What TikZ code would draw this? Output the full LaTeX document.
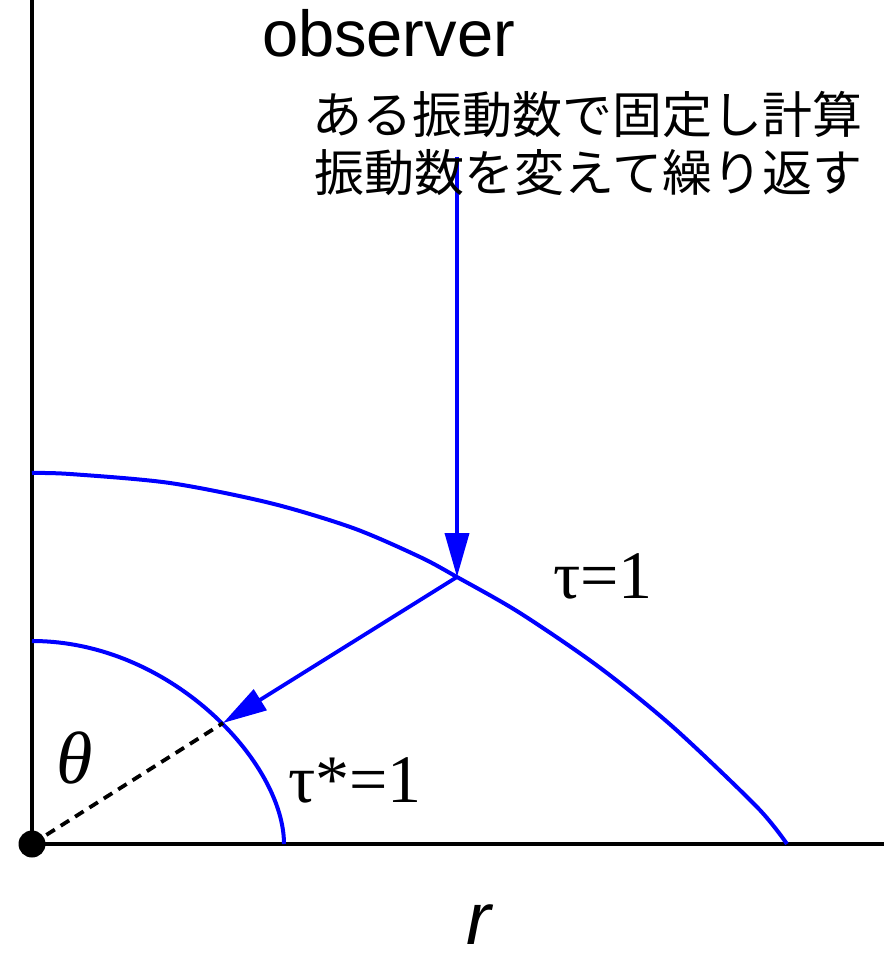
\documentclass[tikz,border=0pt]{standalone}
\usepackage{fontspec}
\setmainfont{Liberation Serif}
\newfontfamily\sansfam{Liberation Sans}
\newfontfamily\cjkfam{Noto Sans CJK JP}
\usetikzlibrary{arrows.meta}
\definecolor{curveblue}{RGB}{0,0,255}
\tikzset{
  axis/.style={line width=4pt, black},
  surface/.style={line width=4pt, curveblue, line join=round},
  ray/.style={line width=3.8pt, curveblue, -{Triangle[length=44pt,width=24pt]}},
  radial/.style={line width=3.8pt, black, dash pattern=on 10pt off 7pt},
  lbl/.style={inner sep=0pt, outer sep=0pt},
}
\begin{document}
\begin{tikzpicture}[x=1pt,y=-1pt]
\useasboundingbox (0,0) rectangle (891,957);
% key points
\coordinate (O) at (32,844);
\coordinate (Ytop) at (32,0);
\coordinate (Xend) at (884,844);
\coordinate (T) at (457,157);
\coordinate (P) at (457,577);
\coordinate (Q) at (223,723);
\coordinate (A1) at (32,641);
\coordinate (A2) at (284,844);
% axes
\draw[axis] (Ytop) -- (O) -- (Xend);
% optical depth surfaces
\draw[surface] plot[smooth, tension=0.5] coordinates {(32,473) (70,474) (170,483) (270,503) (353,528) (420,557) (457,577) (520,613) (599,667) (673,727) (757,807) (787,844)};
\draw[surface] (A1) .. controls (171,641) and (284,763) .. (A2);
% radial dashed line
\draw[radial] (O) -- (Q);
% rays
\draw[ray] (T) -- (P);
\draw[ray] (P) -- (Q);
% origin dot
\node[circle, fill=black, inner sep=0pt, minimum size=27pt] (dot) at (O) {};
% labels
\node[lbl, anchor=base west] (obs) at (262,57) {\sansfam\fontsize{65}{70}\selectfont observer};
\node[lbl, anchor=base east] (jp1) at (862,134) {\cjkfam\fontsize{50}{55}\selectfont ある振動数で固定し計算};
\node[lbl, anchor=base east] (jp2) at (862,192) {\cjkfam\fontsize{50}{55}\selectfont 振動数を変えて繰り返す};
\node[lbl, anchor=base west] (tau) at (553,598) {\fontsize{68}{70}\selectfont τ=1};
\node[lbl, anchor=base west] (taus) at (288,802) {\fontsize{68}{70}\selectfont τ*=1};
\node[lbl] (theta) at (75,758) {\itshape\fontsize{74}{76}\selectfont θ};
\node[lbl, anchor=base west] (r) at (466,944) {\sansfam\itshape\fontsize{74}{76}\selectfont r};
\end{tikzpicture}
\end{document}
